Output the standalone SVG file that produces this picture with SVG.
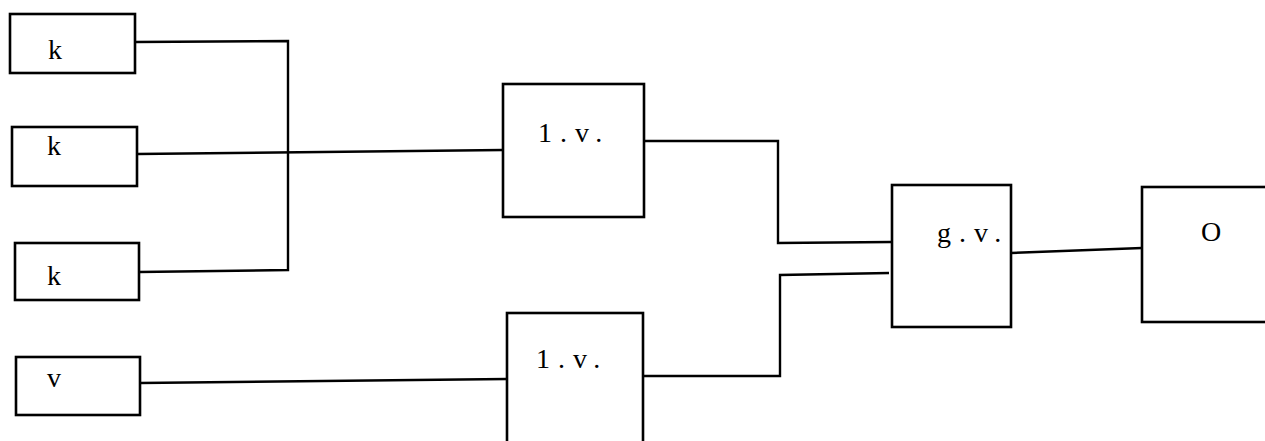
<svg xmlns="http://www.w3.org/2000/svg" width="1265" height="441" viewBox="0 0 1265 441">
<style>
.box{fill:#fff;stroke:#000;stroke-width:2.6}
.ln{fill:none;stroke:#000;stroke-width:2.4;stroke-linejoin:miter}
.t{font-family:"Liberation Serif",serif;font-size:28px;fill:#000}
.w{letter-spacing:8px}
</style>
<rect width="1265" height="441" fill="#fff"/>
<g id="connectors">
<polyline class="ln" points="135,42 288,41 288,270 139,272"/>
<polyline class="ln" points="137,154 503,150"/>
<polyline class="ln" points="140,383 507,379"/>
<polyline class="ln" points="644,141 778,141 778,243 891,242"/>
<polyline class="ln" points="643,376 780,376 780,275 889,273"/>
<polyline class="ln" points="1011,253 1142,248"/>
</g>
<g id="k1"><rect class="box" x="10" y="14" width="125" height="59"/><text class="t" x="48" y="59">k</text></g>
<g id="k2"><rect class="box" x="12" y="127" width="125" height="59"/><text class="t" x="47" y="155">k</text></g>
<g id="k3"><rect class="box" x="15" y="243" width="124" height="57"/><text class="t" x="47" y="285">k</text></g>
<g id="v"><rect class="box" x="16" y="357" width="124" height="58"/><text class="t" x="47" y="387">v</text></g>
<g id="lv1"><rect class="box" x="503" y="84" width="141" height="133"/><text class="t w" x="538" y="142">1.v.</text></g>
<g id="lv2"><rect class="box" x="507" y="313" width="136" height="140"/><text class="t w" x="536" y="368">1.v.</text></g>
<g id="gv"><rect class="box" x="892" y="185" width="119" height="142"/><text class="t w" x="937" y="242">g.v.</text></g>
<g id="o"><rect class="box" x="1142" y="187" width="140" height="135"/><text class="t" x="1201" y="241">O</text></g>
</svg>
